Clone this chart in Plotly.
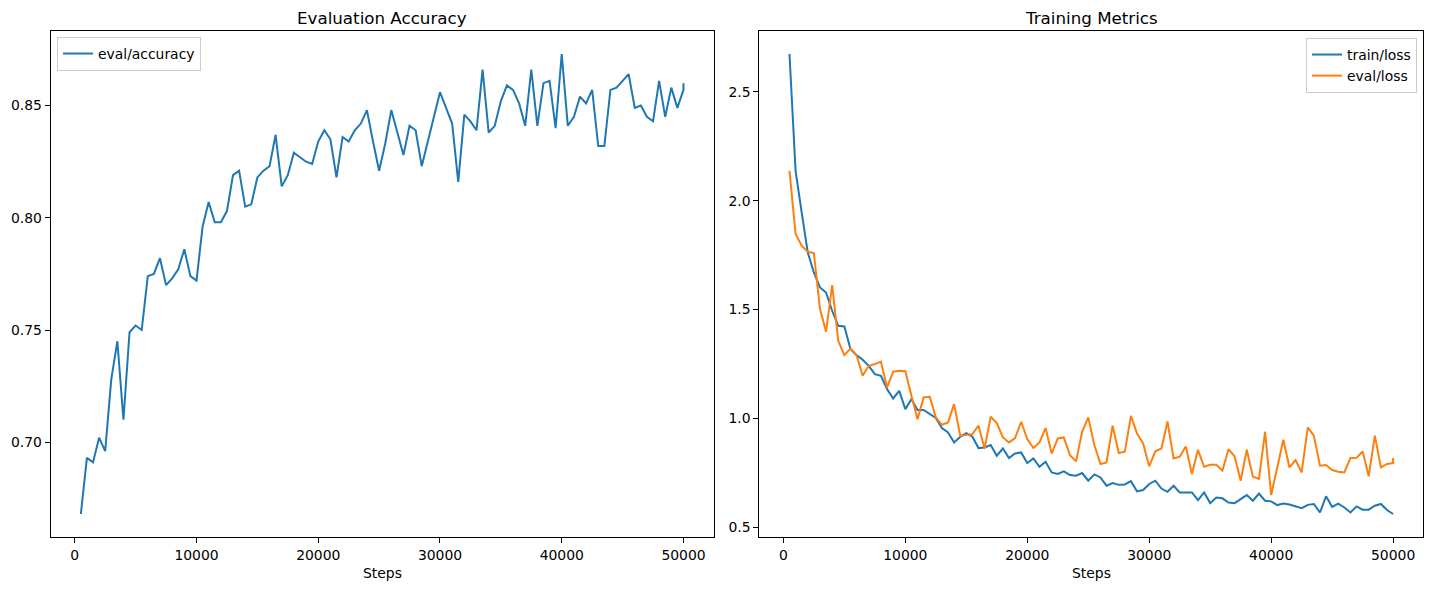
import plotly.graph_objects as go

steps = list(range(500, 50001, 500))
eval_steps = steps + [50000]

eval_accuracy = [
    0.668, 0.693, 0.691, 0.702, 0.696, 0.728, 0.745, 0.710, 0.749, 0.752,
    0.750, 0.774, 0.775, 0.782, 0.770, 0.773, 0.777, 0.786, 0.774, 0.772,
    0.796, 0.807, 0.798, 0.798, 0.803, 0.819, 0.821, 0.805, 0.806, 0.818,
    0.821, 0.823, 0.837, 0.814, 0.819, 0.829, 0.827, 0.825, 0.824, 0.834,
    0.839, 0.835, 0.818, 0.836, 0.834, 0.839, 0.842, 0.848, 0.834, 0.821,
    0.833, 0.848, 0.838, 0.828, 0.841, 0.839, 0.823, 0.834, 0.844, 0.856,
    0.849, 0.842, 0.816, 0.846, 0.843, 0.839, 0.866, 0.838, 0.841, 0.852,
    0.859, 0.857, 0.851, 0.841, 0.866, 0.841, 0.860, 0.861, 0.840, 0.873,
    0.841, 0.845, 0.854, 0.851, 0.857, 0.832, 0.832, 0.857, 0.858, 0.861,
    0.864, 0.849, 0.850, 0.845, 0.843, 0.861, 0.845, 0.858, 0.849, 0.857,
    0.860,
]

train_loss = [
    2.674, 2.137, 1.946, 1.762, 1.670, 1.601, 1.578, 1.494, 1.425, 1.422,
    1.318, 1.290, 1.269, 1.241, 1.203, 1.195, 1.134, 1.091, 1.126, 1.042,
    1.088, 1.038, 1.038, 1.019, 1.001, 0.955, 0.935, 0.889, 0.915, 0.932,
    0.915, 0.863, 0.866, 0.877, 0.828, 0.861, 0.817, 0.838, 0.843, 0.794,
    0.815, 0.777, 0.800, 0.751, 0.744, 0.756, 0.739, 0.736, 0.748, 0.713,
    0.742, 0.728, 0.690, 0.702, 0.694, 0.696, 0.711, 0.664, 0.670, 0.698,
    0.713, 0.677, 0.662, 0.690, 0.659, 0.659, 0.659, 0.624, 0.659, 0.610,
    0.636, 0.632, 0.613, 0.610, 0.629, 0.647, 0.621, 0.654, 0.621, 0.618,
    0.601, 0.608, 0.604, 0.595, 0.587, 0.602, 0.606, 0.567, 0.641, 0.593,
    0.608, 0.590, 0.567, 0.595, 0.580, 0.580, 0.598, 0.606, 0.578, 0.560,
]

eval_loss = [
    2.137, 1.847, 1.793, 1.765, 1.759, 1.502, 1.398, 1.612, 1.356, 1.290,
    1.321, 1.290, 1.195, 1.241, 1.249, 1.260, 1.142, 1.214, 1.218, 1.216,
    1.103, 0.996, 1.096, 1.099, 1.004, 0.970, 0.981, 1.065, 0.920, 0.924,
    0.927, 0.966, 0.861, 1.007, 0.978, 0.912, 0.889, 0.909, 0.984, 0.904,
    0.863, 0.889, 0.955, 0.838, 0.907, 0.912, 0.830, 0.802, 0.938, 1.004,
    0.877, 0.790, 0.797, 0.966, 0.840, 0.846, 1.011, 0.930, 0.884, 0.779,
    0.848, 0.861, 0.985, 0.815, 0.823, 0.870, 0.744, 0.855, 0.777, 0.786,
    0.786, 0.759, 0.858, 0.825, 0.713, 0.855, 0.731, 0.721, 0.938, 0.647,
    0.777, 0.901, 0.774, 0.808, 0.751, 0.958, 0.920, 0.782, 0.785, 0.762,
    0.754, 0.751, 0.817, 0.818, 0.847, 0.733, 0.920, 0.774, 0.790, 0.794,
    0.817,
]

x_ticks = [0, 10000, 20000, 30000, 40000, 50000]
acc_ticks = [0.70, 0.75, 0.80, 0.85]
loss_ticks = [0.5, 1.0, 1.5, 2.0, 2.5]

BLUE = "#1f77b4"
ORANGE = "#ff7f0e"
FONT = "DejaVu Sans"
W, H = 1432, 590

fig = go.Figure()
fig.add_trace(go.Scatter(x=eval_steps, y=eval_accuracy, mode="lines", name="eval/accuracy",
                         line=dict(color=BLUE, width=2), xaxis="x", yaxis="y", legend="legend"))
fig.add_trace(go.Scatter(x=steps, y=train_loss, mode="lines", name="train/loss",
                         line=dict(color=BLUE, width=2), xaxis="x2", yaxis="y2", legend="legend2"))
fig.add_trace(go.Scatter(x=eval_steps, y=eval_loss, mode="lines", name="eval/loss",
                         line=dict(color=ORANGE, width=2), xaxis="x2", yaxis="y2", legend="legend2"))

def xr(vals):
    lo, hi = min(vals), max(vals)
    m = (hi - lo) * 0.05
    return [lo - m, hi + m]

axis_common = dict(showline=True, mirror=True, linecolor="black", linewidth=1,
                   ticks="outside", ticklen=5, tickwidth=1, tickcolor="black",
                   showgrid=False, zeroline=False,
                   tickfont=dict(family=FONT, size=13.9, color="black"))

ydom = [53 / H, 559 / H]
fig.update_layout(
    width=W, height=H,
    margin=dict(l=0, r=0, t=0, b=0),
    paper_bgcolor="white", plot_bgcolor="white",
    font=dict(family=FONT, color="black"),
    xaxis=dict(domain=[50.7 / W, 713.6 / W], range=xr(steps), tickvals=x_ticks,
               ticktext=[str(v) for v in x_ticks], anchor="y", **axis_common),
    yaxis=dict(domain=ydom, range=xr(eval_accuracy), tickvals=acc_ticks,
               ticktext=[f"{v:.2f}" for v in acc_ticks], anchor="x", **axis_common),
    xaxis2=dict(domain=[759.3 / W, 1423.3 / W], range=xr(steps), tickvals=x_ticks,
                ticktext=[str(v) for v in x_ticks], anchor="y2", **axis_common),
    yaxis2=dict(domain=ydom, range=xr(train_loss + eval_loss), tickvals=loss_ticks,
                ticktext=[f"{v:.1f}" for v in loss_ticks], anchor="x2", **axis_common),
    legend=dict(x=57 / W, y=1 - 37 / H, xanchor="left", yanchor="top",
                bgcolor="rgba(255,255,255,0.8)", bordercolor="#cccccc", borderwidth=1,
                font=dict(family=FONT, size=13.9, color="black")),
    legend2=dict(x=1417 / W, y=1 - 38 / H, xanchor="right", yanchor="top",
                 bgcolor="rgba(255,255,255,0.8)", bordercolor="#cccccc", borderwidth=1,
                 font=dict(family=FONT, size=13.9, color="black")),
    showlegend=True,
)

annotations = [
    dict(text="Evaluation Accuracy", x=(50.7 + 713.6) / 2 / W, y=1 - 18 / H),
    dict(text="Training Metrics", x=(759.3 + 1423.3) / 2 / W, y=1 - 18 / H),
]
for a in annotations:
    fig.add_annotation(xref="paper", yref="paper", showarrow=False, xanchor="center",
                       yanchor="middle", font=dict(family=FONT, size=16.7, color="black"), **a)
for cx in [(50.7 + 713.6) / 2, (759.3 + 1423.3) / 2]:
    fig.add_annotation(text="Steps", xref="paper", yref="paper", x=cx / W, y=1 - 573 / H,
                       showarrow=False, xanchor="center", yanchor="middle",
                       font=dict(family=FONT, size=13.9, color="black"))

fig.write_html("out.html")
